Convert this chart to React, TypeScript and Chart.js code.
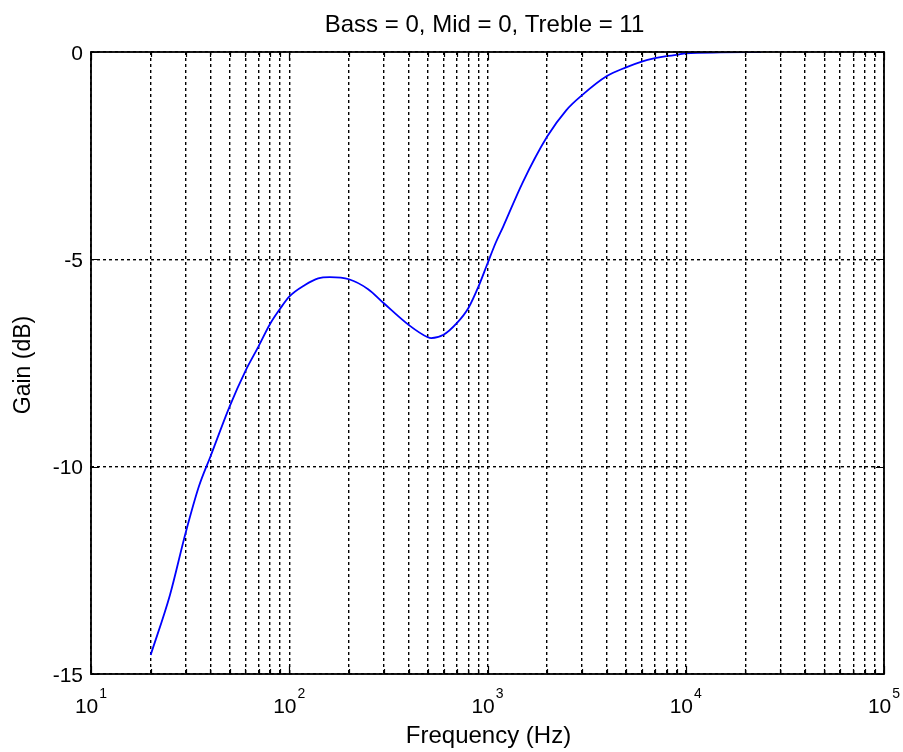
import React, { useEffect, useRef } from "react";
import { Chart, registerables } from "chart.js";

Chart.register(...registerables);

const TITLE = "Bass = 0, Mid = 0, Treble = 11";
const X_LABEL = "Frequency (Hz)";
const Y_LABEL = "Gain (dB)";

// Frequency response (Hz, dB)
const FREQ = [
  20, 25, 30, 35, 40, 50, 60, 70, 80, 90, 100, 120, 140, 160, 200, 250, 300,
  400, 500, 520, 600, 700, 800, 900, 1000, 1100, 1200, 1500, 2000, 2500, 3000,
  4000, 5000, 6000, 7000, 8000, 9000, 10000, 15000, 24000,
];
const GAIN = [
  -14.54, -13.1, -11.6, -10.48, -9.76, -8.55, -7.7, -7.1, -6.56, -6.19, -5.9,
  -5.62, -5.46, -5.43, -5.48, -5.72, -6.06, -6.58, -6.88, -6.9, -6.82, -6.54,
  -6.18, -5.66, -5.1, -4.6, -4.21, -3.16, -2.04, -1.4, -1.04, -0.58, -0.37,
  -0.23, -0.15, -0.1, -0.07, -0.03, -0.01, 0,
];

const X_MIN = 10;
const X_MAX = 100000;
const X_EXPONENTS = [1, 2, 3, 4, 5];
const X_MULTIPLIERS = [1, 2, 3, 4, 5, 6, 7, 8, 9];
const Y_MIN = -15;
const Y_MAX = 0;
const Y_TICKS = [0, -5, -10, -15];

const FONT = '"Liberation Sans", Arial, Helvetica, sans-serif';

function xGridValues(): number[] {
  const out: number[] = [];
  for (const e of X_EXPONENTS) {
    for (const m of X_MULTIPLIERS) {
      const v = m * Math.pow(10, e);
      if (v >= X_MIN && v <= X_MAX) out.push(v);
    }
  }
  return out;
}

const matlabPlugin = {
  id: "matlabDecor",
  afterDraw(chart: any) {
    const { ctx, chartArea, scales } = chart;
    const xs = scales.x;
    const ys = scales.y;
    const { left, right, top, bottom } = chartArea;
    ctx.save();

    // box
    ctx.strokeStyle = "#000";
    ctx.lineWidth = 1.8;
    ctx.setLineDash([]);
    ctx.strokeRect(left, top, right - left, bottom - top);

    // tick marks
    ctx.lineWidth = 1.2;
    ctx.beginPath();
    for (const v of xGridValues()) {
      const px = Math.round(xs.getPixelForValue(v)) + 0.5;
      const major = Math.abs(Math.log10(v) - Math.round(Math.log10(v))) < 1e-9;
      const len = major ? 8 : 5;
      ctx.moveTo(px, bottom);
      ctx.lineTo(px, bottom - len);
      ctx.moveTo(px, top);
      ctx.lineTo(px, top + len);
    }
    for (const v of Y_TICKS) {
      const py = Math.round(ys.getPixelForValue(v)) + 0.5;
      ctx.moveTo(left, py);
      ctx.lineTo(left + 8, py);
      ctx.moveTo(right, py);
      ctx.lineTo(right - 8, py);
    }
    ctx.stroke();

    ctx.fillStyle = "#000";

    // y tick labels
    ctx.font = `21px ${FONT}`;
    ctx.textAlign = "right";
    ctx.textBaseline = "middle";
    for (const v of Y_TICKS) {
      const py = ys.getPixelForValue(v);
      ctx.fillText(String(v), left - 8, py + 2);
    }

    // x tick labels 10^n
    ctx.textBaseline = "alphabetic";
    ctx.textAlign = "left";
    for (const e of X_EXPONENTS) {
      const px = xs.getPixelForValue(Math.pow(10, e));
      ctx.font = `21px ${FONT}`;
      const w1 = ctx.measureText("10").width;
      ctx.font = `14px ${FONT}`;
      const w2 = ctx.measureText(String(e)).width;
      const start = px - (w1 + w2 + 1) / 2;
      ctx.font = `21px ${FONT}`;
      ctx.fillText("10", start, 713);
      ctx.font = `14px ${FONT}`;
      ctx.fillText(String(e), start + w1 + 1, 698);
    }

    // title
    ctx.font = `24px ${FONT}`;
    ctx.textAlign = "center";
    ctx.fillText(TITLE, (left + right) / 2 - 3, 32);

    // x label
    ctx.font = `24px ${FONT}`;
    ctx.fillText(X_LABEL, (left + right) / 2 + 1, 743);

    // y label
    ctx.save();
    ctx.translate(24, (top + bottom) / 2 + 2);
    ctx.rotate(-Math.PI / 2);
    ctx.textBaseline = "middle";
    ctx.font = `23px ${FONT}`;
    ctx.fillText(Y_LABEL, 0, 0);
    ctx.restore();

    ctx.restore();
  },
};

export default function App() {
  const canvasRef = useRef<HTMLCanvasElement | null>(null);

  useEffect(() => {
    const canvas = canvasRef.current;
    if (!canvas) return;
    const data = FREQ.map((f, i) => ({ x: f, y: GAIN[i] }));
    const chart = new Chart(canvas, {
      type: "line",
      data: {
        datasets: [
          {
            data,
            borderColor: "#0000ff",
            borderWidth: 1.8,
            pointRadius: 0,
            fill: false,
            cubicInterpolationMode: "monotone",
          },
        ],
      },
      options: {
        animation: false,
        responsive: false,
        maintainAspectRatio: false,
        devicePixelRatio: 1,
        layout: { padding: { left: 0, right: 19, top: 52, bottom: 0 } },
        plugins: {
          legend: { display: false },
          title: { display: false },
          tooltip: { enabled: false },
        },
        scales: {
          x: {
            type: "logarithmic",
            min: X_MIN,
            max: X_MAX,
            afterBuildTicks: (s: any) => {
              s.ticks = xGridValues().map((v) => ({ value: v }));
            },
            afterFit: (s: any) => {
              s.height = 78;
            },
            ticks: { display: false },
            grid: { color: "#000", lineWidth: 1.4, drawTicks: false },
            border: { display: false, dash: [3, 3] },
          },
          y: {
            type: "linear",
            min: Y_MIN,
            max: Y_MAX,
            afterBuildTicks: (s: any) => {
              s.ticks = Y_TICKS.map((v) => ({ value: v }));
            },
            afterFit: (s: any) => {
              s.width = 91;
            },
            ticks: { display: false },
            grid: { color: "#000", lineWidth: 1.4, drawTicks: false },
            border: { display: false, dash: [3, 3] },
          },
        },
      } as any,
      plugins: [matlabPlugin],
    });
    return () => chart.destroy();
  }, []);

  return (
    <div
      style={{
        position: "absolute",
        left: 0,
        top: 0,
        width: 903,
        height: 752,
        background: "#fff",
      }}
    >
      <canvas ref={canvasRef} width={903} height={752} style={{ display: "block" }} />
    </div>
  );
}
